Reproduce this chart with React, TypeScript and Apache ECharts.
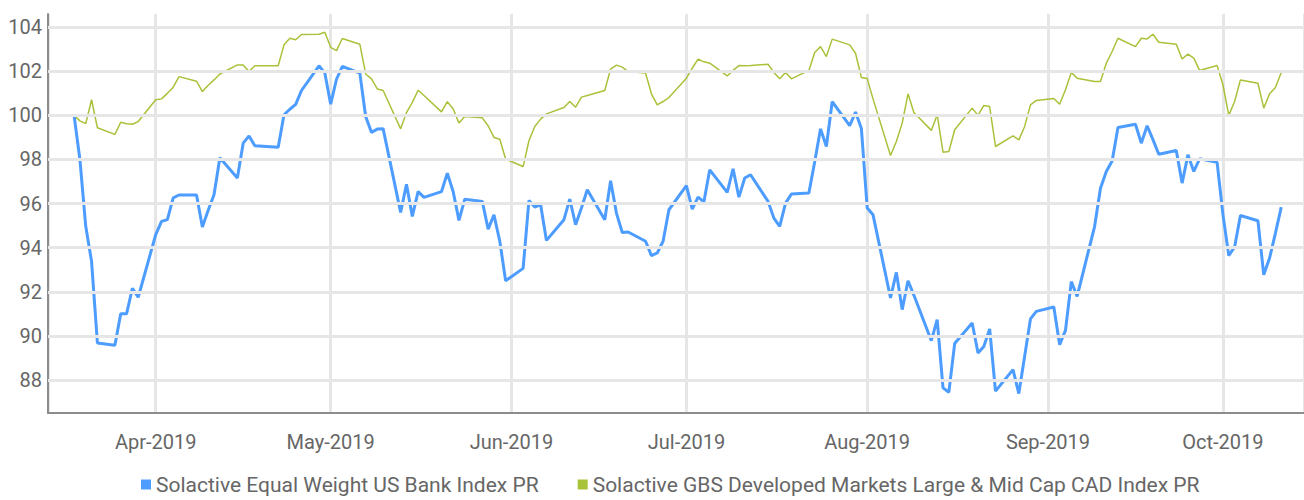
import React, { useEffect, useRef } from "react";
import * as echarts from "echarts";

const dates: string[] = [
  "2019-03-18","2019-03-19","2019-03-20","2019-03-21","2019-03-22","2019-03-25","2019-03-26","2019-03-27","2019-03-28","2019-03-29",
  "2019-04-01","2019-04-02","2019-04-03","2019-04-04","2019-04-05","2019-04-08","2019-04-09","2019-04-10","2019-04-11","2019-04-12","2019-04-15","2019-04-16","2019-04-17","2019-04-18","2019-04-22","2019-04-23","2019-04-24","2019-04-25","2019-04-26","2019-04-29","2019-04-30",
  "2019-05-01","2019-05-02","2019-05-03","2019-05-06","2019-05-07","2019-05-08","2019-05-09","2019-05-10","2019-05-13","2019-05-14","2019-05-15","2019-05-16","2019-05-17","2019-05-20","2019-05-21","2019-05-22","2019-05-23","2019-05-24","2019-05-27","2019-05-28","2019-05-29","2019-05-30","2019-05-31",
  "2019-06-03","2019-06-04","2019-06-05","2019-06-06","2019-06-07","2019-06-10","2019-06-11","2019-06-12","2019-06-13","2019-06-14","2019-06-17","2019-06-18","2019-06-19","2019-06-20","2019-06-21","2019-06-24","2019-06-25","2019-06-26","2019-06-27","2019-06-28",
  "2019-07-01","2019-07-02","2019-07-03","2019-07-04","2019-07-05","2019-07-08","2019-07-09","2019-07-10","2019-07-11","2019-07-12","2019-07-15","2019-07-16","2019-07-17","2019-07-18","2019-07-19","2019-07-22","2019-07-23","2019-07-24","2019-07-25","2019-07-26","2019-07-29","2019-07-30","2019-07-31",
  "2019-08-01","2019-08-02","2019-08-05","2019-08-06","2019-08-07","2019-08-08","2019-08-09","2019-08-12","2019-08-13","2019-08-14","2019-08-15","2019-08-16","2019-08-19","2019-08-20","2019-08-21","2019-08-22","2019-08-23","2019-08-26","2019-08-27","2019-08-28","2019-08-29","2019-08-30",
  "2019-09-02","2019-09-03","2019-09-04","2019-09-05","2019-09-06","2019-09-09","2019-09-10","2019-09-11","2019-09-12","2019-09-13","2019-09-16","2019-09-17","2019-09-18","2019-09-19","2019-09-20","2019-09-23","2019-09-24","2019-09-25","2019-09-26","2019-09-27","2019-09-30",
  "2019-10-01","2019-10-02","2019-10-03","2019-10-04","2019-10-07","2019-10-08","2019-10-09","2019-10-10","2019-10-11",
];

const bankIndex: number[] = [
  100.0, 98.0, 94.97, 93.38, 89.68, 89.57, 91.0, 91.0, 92.16, 91.75,
  94.59, 95.19, 95.27, 96.26, 96.39, 96.39, 94.94, 95.7, 96.4, 98.08, 97.16, 98.74, 99.07, 98.62, 98.56, 100.03, 100.28, 100.5, 101.13, 102.25, 101.92,
  100.51, 101.64, 102.22, 101.92, 99.95, 99.23, 99.38, 99.39, 95.6, 96.88, 95.42, 96.55, 96.28, 96.54, 97.38, 96.55, 95.24, 96.2, 96.1, 94.84, 95.49, 94.29, 92.5,
  93.06, 96.14, 95.84, 95.95, 94.33, 95.27, 96.2, 95.04, 95.8, 96.63, 95.27, 97.04, 95.57, 94.69, 94.71, 94.29, 93.64, 93.76, 94.29, 95.72,
  96.81, 95.75, 96.29, 96.08, 97.53, 96.51, 97.58, 96.29, 97.16, 97.31, 96.1, 95.34, 94.97, 96.02, 96.43, 96.48, 97.9, 99.39, 98.59, 100.62, 99.54, 100.15, 99.41,
  95.8, 95.49, 91.72, 92.88, 91.19, 92.5, 91.85, 89.78, 90.74, 87.64, 87.44, 89.65, 90.58, 89.22, 89.52, 90.31, 87.49, 88.47, 87.38, 89.07, 90.77, 91.11,
  91.31, 89.6, 90.25, 92.46, 91.79, 94.97, 96.7, 97.46, 97.93, 99.45, 99.6, 98.74, 99.53, 98.9, 98.24, 98.41, 96.93, 98.21, 97.46, 98.03, 97.87,
  95.5, 93.64, 94.03, 95.46, 95.22, 92.77, 93.53, 94.66, 95.84,
];

const gbsIndex: number[] = [
  100.0, 99.75, 99.63, 100.71, 99.44, 99.14, 99.69, 99.62, 99.6, 99.72,
  100.71, 100.75, 101.0, 101.28, 101.76, 101.55, 101.08, 101.37, 101.61, 101.88, 102.29, 102.29, 101.99, 102.25, 102.25, 103.2, 103.5, 103.43, 103.67, 103.68, 103.77,
  103.09, 102.94, 103.49, 103.23, 101.88, 101.66, 101.2, 101.13, 99.39, 100.13, 100.59, 101.14, 100.9, 100.16, 100.62, 100.3, 99.65, 99.95, 99.89, 99.53, 99.0, 98.92, 98.02,
  97.68, 98.85, 99.5, 99.83, 100.07, 100.36, 100.63, 100.37, 100.83, 100.9, 101.13, 102.1, 102.28, 102.19, 101.99, 101.92, 100.98, 100.48, 100.63, 100.81,
  101.69, 102.14, 102.55, 102.43, 102.37, 101.79, 102.04, 102.26, 102.25, 102.26, 102.32, 101.95, 101.66, 101.95, 101.66, 102.04, 102.85, 103.12, 102.67, 103.46, 103.2, 102.82, 101.72,
  101.67, 100.75, 98.18, 98.82, 99.65, 100.98, 100.13, 99.32, 100.03, 98.33, 98.36, 99.35, 100.33, 100.0, 100.45, 100.4, 98.59, 99.07, 98.89, 99.5, 100.48, 100.68,
  100.77, 100.51, 101.16, 101.95, 101.69, 101.54, 101.54, 102.37, 102.9, 103.5, 103.12, 103.5, 103.47, 103.68, 103.32, 103.23, 102.56, 102.78, 102.6, 102.04, 102.26,
  101.39, 100.0, 100.63, 101.61, 101.46, 100.33, 100.98, 101.27, 101.95,
];

const seriesNames: string[] = [
  "Solactive Equal Weight US Bank Index PR",
  "Solactive GBS Developed Markets Large & Mid Cap CAD Index PR",
];

const gridValues: number[] = [88, 90, 92, 94, 96, 98, 100, 102, 104];
const monthNames: string[] = ["Jan","Feb","Mar","Apr","May","Jun","Jul","Aug","Sep","Oct","Nov","Dec"];

const FONT = "Roboto, 'Noto Sans', sans-serif";
const DAY = 86400000;

export default function App() {
  const ref = useRef<HTMLDivElement>(null);
  useEffect(() => {
    if (!ref.current) return;
    const chart = echarts.init(ref.current, undefined, { renderer: "svg" });
    const ts = dates.map((d) => new Date(d + "T00:00:00Z").getTime());
    const apr1 = Date.UTC(2019, 3, 1);
    chart.setOption({
      animation: false,
      useUTC: true,
      textStyle: { fontFamily: FONT },
      grid: { left: 48, right: 0, top: 14, bottom: 87, containLabel: false },
      legend: {
        left: 136,
        top: 469,
        itemWidth: 10,
        itemHeight: 10,
        itemGap: 39,
        icon: "rect",
        textStyle: { fontFamily: FONT, fontSize: 21, color: "#666666" },
        data: seriesNames,
      },
      xAxis: {
        type: "time",
        min: apr1 - 18.47 * DAY,
        max: apr1 + 196.9 * DAY,
        splitNumber: 7,
        minInterval: 28 * DAY,
        maxInterval: 31 * DAY,
        axisLine: { show: true, lineStyle: { color: "#8c8c8c", width: 2 } },
        axisTick: { show: false },
        splitLine: { show: true, lineStyle: { color: "#e6e6e6", width: 3 } },
        axisLabel: {
          showMinLabel: false,
          showMaxLabel: false,
          margin: 19,
          fontFamily: FONT,
          fontSize: 20,
          color: "#666666",
          formatter: (v: number) => {
            const d = new Date(v);
            return monthNames[d.getUTCMonth()] + "-" + d.getUTCFullYear();
          },
        },
      },
      yAxis: {
        type: "value",
        min: 86.5,
        max: 104.6,
        splitNumber: 9,
        axisLine: { show: true, lineStyle: { color: "#8c8c8c", width: 2 } },
        axisTick: { show: false },
        splitLine: { show: false },
        axisLabel: {
          margin: 6,
          fontFamily: FONT,
          fontSize: 20,
          color: "#666666",
          formatter: (v: number) => (Math.abs(v - Math.round(v)) < 1e-6 && Math.round(v) % 2 === 0 ? String(Math.round(v)) : ""),
        },
      },
      series: [
        {
          name: "grid",
          type: "line",
          data: [],
          z: 1,
          silent: true,
          markLine: {
            silent: true,
            symbol: ["none", "none"],
            label: { show: false },
            lineStyle: { color: "#e6e6e6", width: 3, type: "solid" },
            data: gridValues.map((v) => ({ yAxis: v })),
          },
        },
        {
          name: seriesNames[0],
          type: "line",
          z: 3,
          showSymbol: false,
          symbol: "none",
          data: ts.map((t, i) => [t, bankIndex[i]]),
          lineStyle: { color: "#4d9cff", width: 3 },
          itemStyle: { color: "#4d9cff" },
        },
        {
          name: seriesNames[1],
          type: "line",
          z: 2,
          showSymbol: false,
          symbol: "none",
          data: ts.map((t, i) => [t, gbsIndex[i]]),
          lineStyle: { color: "#a8c23a", width: 1.5 },
          itemStyle: { color: "#a8c23a" },
        },
      ],
    });
    return () => chart.dispose();
  }, []);
  return (
    <div
      ref={ref}
      style={{ position: "fixed", left: 0, top: 0, width: 1304, height: 500, background: "#ffffff" }}
    />
  );
}
